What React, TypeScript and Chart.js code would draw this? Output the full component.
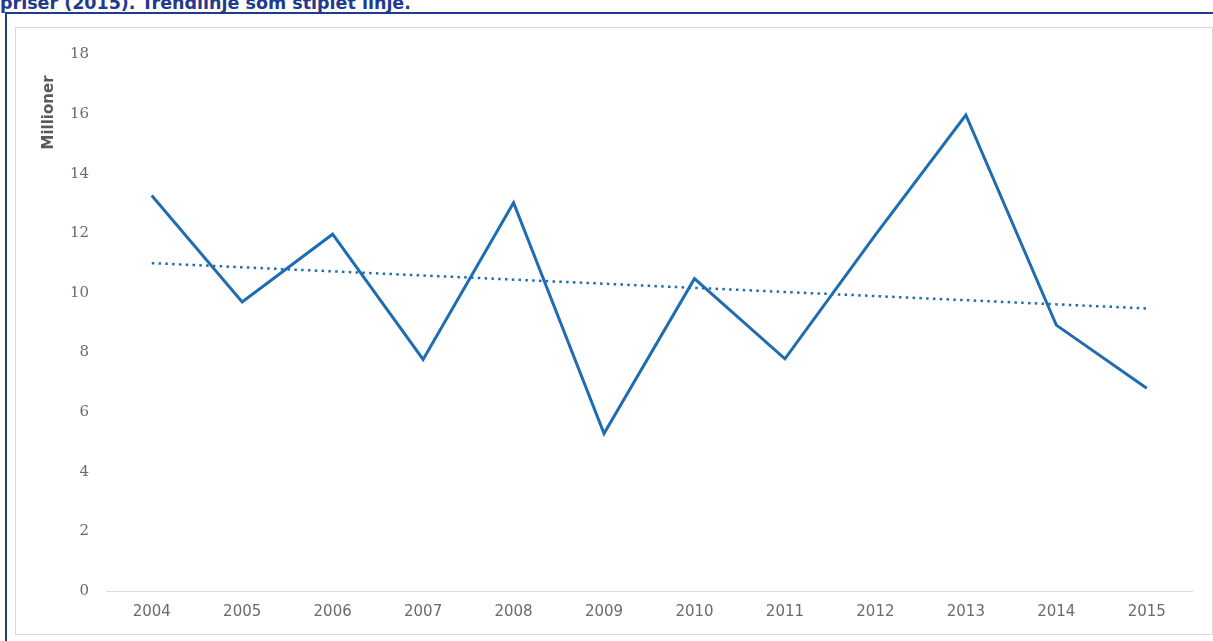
import React, { useEffect, useRef } from "react";
import { Chart, registerables } from "chart.js";

Chart.register(...registerables);

const years = ["2004", "2005", "2006", "2007", "2008", "2009", "2010", "2011", "2012", "2013", "2014", "2015"];
const values = [13.27, 9.7, 11.97, 7.77, 13.03, 5.28, 10.48, 7.79, 11.95, 15.97, 8.92, 6.8];
const trendValues = [11.0, null, null, null, null, null, null, null, null, null, null, 9.48];
const yMin = 0;
const yMax = 18;
const yStep = 2;
const unitLabel = "Millioner";
const titleText = "priser (2015). Trendlinje som stiplet linje.";

const lineColor = "#1f6db0";
const textGray = "#6b6b6b";

export default function App() {
  const ref = useRef<HTMLCanvasElement>(null);

  useEffect(() => {
    if (!ref.current) return;
    const unitPlugin = {
      id: "unitLabel",
      afterDraw(chart: any) {
        const { ctx, chartArea } = chart;
        ctx.save();
        ctx.translate(chartArea.left - 57.5, chartArea.top + 58);
        ctx.rotate(-Math.PI / 2);
        ctx.font = 'bold 15px "DejaVu Sans"';
        ctx.fillStyle = "#595959";
        ctx.textAlign = "center";
        ctx.textBaseline = "middle";
        ctx.fillText(unitLabel, 0, 0);
        ctx.restore();
      },
    };
    const chart = new Chart(ref.current, {
      type: "line",
      data: {
        labels: years,
        datasets: [
          {
            data: values,
            borderColor: lineColor,
            borderWidth: 3,
            pointRadius: 0,
            tension: 0,
            fill: false,
            borderJoinStyle: "miter",
          },
          {
            data: trendValues,
            borderColor: lineColor,
            borderWidth: 2.5,
            borderDash: [2.5, 4.3],
            pointRadius: 0,
            spanGaps: true,
            fill: false,
          },
        ],
      },
      options: {
        responsive: false,
        animation: false,
        events: [],
        layout: { padding: { top: 20, right: 18, bottom: 0, left: 0 } },
        plugins: { legend: { display: false }, tooltip: { enabled: false } },
        scales: {
          x: {
            offset: true,
            grid: { display: false, drawTicks: false },
            border: { display: true, color: "#d9d9d9", width: 1 },
            ticks: {
              color: textGray,
              font: { family: "DejaVu Sans", size: 15 },
              padding: 12,
              autoSkip: false,
              maxRotation: 0,
            },
            afterFit(scale: any) {
              scale.height = 41;
            },
          },
          y: {
            min: yMin,
            max: yMax,
            grid: { display: false, drawTicks: false },
            border: { display: false },
            ticks: {
              stepSize: yStep,
              color: textGray,
              font: { family: "DejaVu Serif", size: 15 },
              padding: 17.5,
            },
            afterFit(scale: any) {
              scale.width = 90.5;
            },
          },
        },
      },
      plugins: [unitPlugin],
    } as any);
    return () => chart.destroy();
  }, []);

  return (
    <div
      style={{
        position: "fixed",
        left: 0,
        top: 0,
        width: 1213,
        height: 641,
        overflow: "hidden",
        background: "#ffffff",
      }}
    >
      <div
        style={{
          position: "absolute",
          left: 0,
          top: -5,
          fontFamily: '"DejaVu Sans", sans-serif',
          fontWeight: "bold",
          fontSize: 17.5,
          lineHeight: "17.5px",
          color: "#1f3a8f",
          whiteSpace: "nowrap",
        }}
      >
        {titleText}
      </div>
      <div
        style={{
          position: "absolute",
          left: 5,
          top: 12,
          width: 1400,
          height: 1000,
          borderLeft: "2px solid #1f3a8f",
          borderTop: "2px solid #1f3a8f",
        }}
      />
      <div
        style={{
          position: "absolute",
          left: 15,
          top: 27,
          width: 1196,
          height: 606,
          border: "1px solid #d9d9d9",
          background: "#ffffff",
        }}
      >
        <canvas ref={ref} width={1194} height={604} style={{ display: "block" }} />
      </div>
    </div>
  );
}
